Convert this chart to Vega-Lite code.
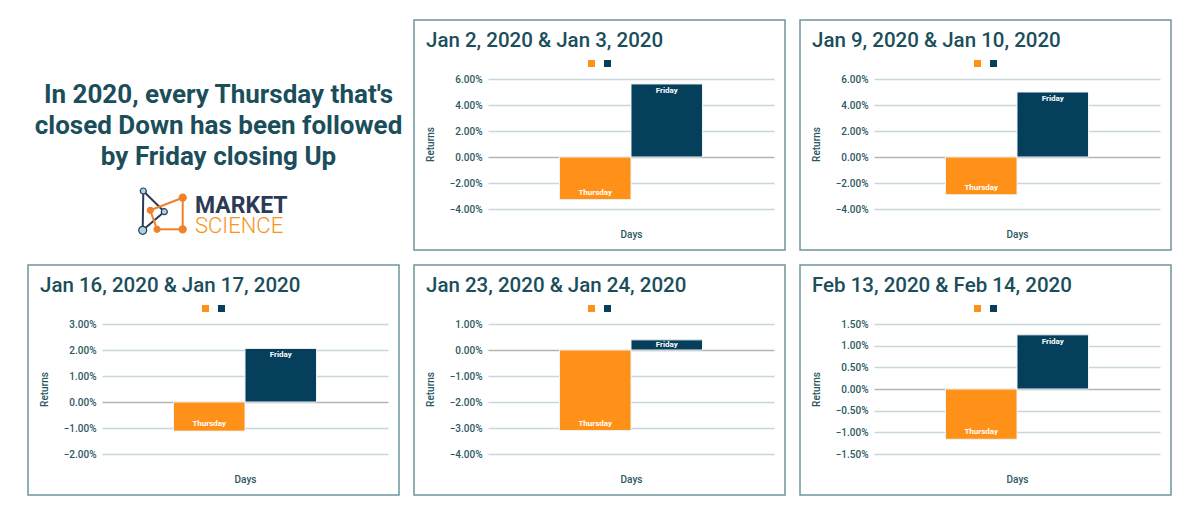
{
  "$schema": "https://vega.github.io/schema/vega-lite/v6.json",
  "background": "white",
  "padding": {"left": 27, "top": 19, "right": 29, "bottom": 18},
  "datasets": {
    "returns": [
      {"pair": "Jan 2, 2020 & Jan 3, 2020", "Day": "Thursday", "Return": -0.0328},
      {"pair": "Jan 2, 2020 & Jan 3, 2020", "Day": "Friday", "Return": 0.0562},
      {"pair": "Jan 9, 2020 & Jan 10, 2020", "Day": "Thursday", "Return": -0.029},
      {"pair": "Jan 9, 2020 & Jan 10, 2020", "Day": "Friday", "Return": 0.05},
      {"pair": "Jan 16, 2020 & Jan 17, 2020", "Day": "Thursday", "Return": -0.0112},
      {"pair": "Jan 16, 2020 & Jan 17, 2020", "Day": "Friday", "Return": 0.0206},
      {"pair": "Jan 23, 2020 & Jan 24, 2020", "Day": "Thursday", "Return": -0.031},
      {"pair": "Jan 23, 2020 & Jan 24, 2020", "Day": "Friday", "Return": 0.0039},
      {"pair": "Feb 13, 2020 & Feb 14, 2020", "Day": "Thursday", "Return": -0.0116},
      {"pair": "Feb 13, 2020 & Feb 14, 2020", "Day": "Friday", "Return": 0.0125}
    ],
    "logoEdges": [
      {"x": 5.3, "y": 6, "x2": 4.7, "y2": 45.3, "tone": "navy"},
      {"x": 5.3, "y": 6, "x2": 26.3, "y2": 26.7, "tone": "navy"},
      {"x": 26.3, "y": 26.7, "x2": 4.7, "y2": 45.3, "tone": "navy"},
      {"x": 12.3, "y": 25.3, "x2": 44.7, "y2": 12.7, "tone": "orange"},
      {"x": 44.7, "y": 12.7, "x2": 44.7, "y2": 44.3, "tone": "orange"},
      {"x": 44.7, "y": 44.3, "x2": 19, "y2": 44.3, "tone": "orange"},
      {"x": 19, "y": 44.3, "x2": 12.3, "y2": 25.3, "tone": "orange"}
    ],
    "logoNodes": [
      {"x": 5.3, "y": 6, "tone": "blue", "node": "small"},
      {"x": 12.3, "y": 25.3, "tone": "orange", "node": "small"},
      {"x": 26.3, "y": 26.7, "tone": "blue", "node": "small"},
      {"x": 44.7, "y": 12.7, "tone": "orange", "node": "medium"},
      {"x": 44.7, "y": 44.3, "tone": "orange", "node": "medium"},
      {"x": 4.7, "y": 45.3, "tone": "blue", "node": "large"},
      {"x": 19, "y": 44.3, "tone": "orange", "node": "small"}
    ],
    "logoWords": [
      {"word": "MARKET", "x": 57, "y": 28},
      {"word": "SCIENCE", "x": 57, "y": 47.7}
    ]
  },
  "columns": 3,
  "bounds": "flush",
  "spacing": {"row": 15, "column": 15},
  "resolve": {"scale": {"color": "independent"}, "legend": {"color": "independent"}},
  "concat": [
    {
      "width": 371, "height": 230,
      "view": {"stroke": null, "fill": null},
      "title": {
        "text": ["In 2020, every Thursday that's", "closed Down has been followed", "by Friday closing Up"],
        "anchor": "middle", "fontSize": 26, "fontWeight": "bold", "lineHeight": 31,
        "color": "#1b4e5b", "baseline": "top", "offset": -150, "dx": 5
      },
      "layer": [
        {
          "data": {"name": "logoEdges"},
          "mark": {"type": "rule", "strokeWidth": 2},
          "encoding": {
            "x": {"field": "x", "type": "quantitative", "scale": {"domain": [0, 180], "range": [110, 290]}, "axis": null},
            "y": {"field": "y", "type": "quantitative", "scale": {"domain": [0, 60], "range": [165, 225]}, "axis": null},
            "x2": {"field": "x2"},
            "y2": {"field": "y2"},
            "color": {"field": "tone", "type": "nominal", "scale": {"domain": ["navy", "orange", "blue"], "range": ["#2b3a55", "#f0802a", "#a9d4e4"]}, "legend": null}
          }
        },
        {
          "data": {"name": "logoNodes"},
          "mark": {"type": "point", "shape": "circle", "filled": true, "opacity": 1, "strokeWidth": 1.2},
          "encoding": {
            "x": {"field": "x", "type": "quantitative"},
            "y": {"field": "y", "type": "quantitative"},
            "fill": {"field": "tone", "type": "nominal", "scale": {"domain": ["blue", "orange"], "range": ["#a9d4e4", "#f0802a"]}, "legend": null},
            "stroke": {"field": "tone", "type": "nominal", "scale": {"domain": ["blue", "orange"], "range": ["#2b3a55", "#f0802a"]}, "legend": null},
            "size": {"field": "node", "type": "nominal", "scale": {"domain": ["small", "medium", "large"], "range": [36, 64, 100]}, "legend": null}
          }
        },
        {
          "data": {"name": "logoWords"},
          "transform": [{"filter": "datum.word === 'MARKET'"}],
          "mark": {"type": "text", "align": "left", "baseline": "alphabetic", "fontSize": 23, "fontWeight": "bold", "color": "#2b3a55"},
          "encoding": {
            "x": {"field": "x", "type": "quantitative"},
            "y": {"field": "y", "type": "quantitative"},
            "text": {"field": "word"}
          }
        },
        {
          "data": {"name": "logoWords"},
          "transform": [{"filter": "datum.word === 'SCIENCE'"}],
          "mark": {"type": "text", "align": "left", "baseline": "alphabetic", "fontSize": 22, "fontWeight": 300, "color": "#f7941d"},
          "encoding": {
            "x": {"field": "x", "type": "quantitative"},
            "y": {"field": "y", "type": "quantitative"},
            "text": {"field": "word"}
          }
        }
      ]
    },
    {
      "width": 371, "height": 230,
      "title": "Jan 2, 2020 & Jan 3, 2020",
      "data": {"name": "returns"},
      "transform": [{"filter": "datum.pair === 'Jan 2, 2020 & Jan 3, 2020'"}],
      "encoding": {
        "x": {"field": "Day", "type": "nominal", "sort": ["Thursday", "Friday"], "scale": {"domain": ["Thursday", "Friday"], "range": [74, 360], "paddingInner": 0, "paddingOuter": 1.1}, "axis": {"title": "Days"}},
        "y": {"field": "Return", "type": "quantitative", "scale": {"domain": [-0.04, 0.06], "range": [189, 59], "nice": false}, "axis": {"title": "Returns", "values": [-0.04, -0.02, 0, 0.02, 0.04, 0.06], "format": ".2%"}}
      },
      "layer": [
        {"mark": {"type": "bar", "stroke": "#eef3f5", "strokeWidth": 1}, "encoding": {"color": {"field": "Day", "type": "nominal", "scale": {"domain": ["Thursday", "Friday"], "range": ["#ff9118", "#053f5c"]}, "legend": {"labelExpr": "''"}}}},
        {"transform": [{"filter": "datum.Return > 0"}], "mark": {"type": "text", "baseline": "top", "dy": 3, "fontSize": 8, "fontWeight": "bold", "color": "white"}, "encoding": {"text": {"field": "Day"}}},
        {"transform": [{"filter": "datum.Return < 0"}], "mark": {"type": "text", "baseline": "bottom", "dy": -3, "fontSize": 8, "fontWeight": "bold", "color": "white"}, "encoding": {"text": {"field": "Day"}}}
      ]
    },
    {
      "width": 371, "height": 230,
      "title": "Jan 9, 2020 & Jan 10, 2020",
      "data": {"name": "returns"},
      "transform": [{"filter": "datum.pair === 'Jan 9, 2020 & Jan 10, 2020'"}],
      "encoding": {
        "x": {"field": "Day", "type": "nominal", "sort": ["Thursday", "Friday"], "scale": {"domain": ["Thursday", "Friday"], "range": [74, 360], "paddingInner": 0, "paddingOuter": 1.1}, "axis": {"title": "Days"}},
        "y": {"field": "Return", "type": "quantitative", "scale": {"domain": [-0.04, 0.06], "range": [189, 59], "nice": false}, "axis": {"title": "Returns", "values": [-0.04, -0.02, 0, 0.02, 0.04, 0.06], "format": ".2%"}}
      },
      "layer": [
        {"mark": {"type": "bar", "stroke": "#eef3f5", "strokeWidth": 1}, "encoding": {"color": {"field": "Day", "type": "nominal", "scale": {"domain": ["Thursday", "Friday"], "range": ["#ff9118", "#053f5c"]}, "legend": {"labelExpr": "''"}}}},
        {"transform": [{"filter": "datum.Return > 0"}], "mark": {"type": "text", "baseline": "top", "dy": 3, "fontSize": 8, "fontWeight": "bold", "color": "white"}, "encoding": {"text": {"field": "Day"}}},
        {"transform": [{"filter": "datum.Return < 0"}], "mark": {"type": "text", "baseline": "bottom", "dy": -3, "fontSize": 8, "fontWeight": "bold", "color": "white"}, "encoding": {"text": {"field": "Day"}}}
      ]
    },
    {
      "width": 371, "height": 230,
      "title": "Jan 16, 2020 & Jan 17, 2020",
      "data": {"name": "returns"},
      "transform": [{"filter": "datum.pair === 'Jan 16, 2020 & Jan 17, 2020'"}],
      "encoding": {
        "x": {"field": "Day", "type": "nominal", "sort": ["Thursday", "Friday"], "scale": {"domain": ["Thursday", "Friday"], "range": [74, 360], "paddingInner": 0, "paddingOuter": 1.1}, "axis": {"title": "Days"}},
        "y": {"field": "Return", "type": "quantitative", "scale": {"domain": [-0.02, 0.03], "range": [189, 59], "nice": false}, "axis": {"title": "Returns", "values": [-0.02, -0.01, 0, 0.01, 0.02, 0.03], "format": ".2%"}}
      },
      "layer": [
        {"mark": {"type": "bar", "stroke": "#eef3f5", "strokeWidth": 1}, "encoding": {"color": {"field": "Day", "type": "nominal", "scale": {"domain": ["Thursday", "Friday"], "range": ["#ff9118", "#053f5c"]}, "legend": {"labelExpr": "''"}}}},
        {"transform": [{"filter": "datum.Return > 0"}], "mark": {"type": "text", "baseline": "top", "dy": 3, "fontSize": 8, "fontWeight": "bold", "color": "white"}, "encoding": {"text": {"field": "Day"}}},
        {"transform": [{"filter": "datum.Return < 0"}], "mark": {"type": "text", "baseline": "bottom", "dy": -3, "fontSize": 8, "fontWeight": "bold", "color": "white"}, "encoding": {"text": {"field": "Day"}}}
      ]
    },
    {
      "width": 371, "height": 230,
      "title": "Jan 23, 2020 & Jan 24, 2020",
      "data": {"name": "returns"},
      "transform": [{"filter": "datum.pair === 'Jan 23, 2020 & Jan 24, 2020'"}],
      "encoding": {
        "x": {"field": "Day", "type": "nominal", "sort": ["Thursday", "Friday"], "scale": {"domain": ["Thursday", "Friday"], "range": [74, 360], "paddingInner": 0, "paddingOuter": 1.1}, "axis": {"title": "Days"}},
        "y": {"field": "Return", "type": "quantitative", "scale": {"domain": [-0.04, 0.01], "range": [189, 59], "nice": false}, "axis": {"title": "Returns", "values": [-0.04, -0.03, -0.02, -0.01, 0, 0.01], "format": ".2%"}}
      },
      "layer": [
        {"mark": {"type": "bar", "stroke": "#eef3f5", "strokeWidth": 1}, "encoding": {"color": {"field": "Day", "type": "nominal", "scale": {"domain": ["Thursday", "Friday"], "range": ["#ff9118", "#053f5c"]}, "legend": {"labelExpr": "''"}}}},
        {"transform": [{"filter": "datum.Return > 0"}], "mark": {"type": "text", "baseline": "top", "dy": 1, "fontSize": 8, "fontWeight": "bold", "color": "white"}, "encoding": {"text": {"field": "Day"}}},
        {"transform": [{"filter": "datum.Return < 0"}], "mark": {"type": "text", "baseline": "bottom", "dy": -3, "fontSize": 8, "fontWeight": "bold", "color": "white"}, "encoding": {"text": {"field": "Day"}}}
      ]
    },
    {
      "width": 371, "height": 230,
      "title": "Feb 13, 2020 & Feb 14, 2020",
      "data": {"name": "returns"},
      "transform": [{"filter": "datum.pair === 'Feb 13, 2020 & Feb 14, 2020'"}],
      "encoding": {
        "x": {"field": "Day", "type": "nominal", "sort": ["Thursday", "Friday"], "scale": {"domain": ["Thursday", "Friday"], "range": [74, 360], "paddingInner": 0, "paddingOuter": 1.1}, "axis": {"title": "Days"}},
        "y": {"field": "Return", "type": "quantitative", "scale": {"domain": [-0.015, 0.015], "range": [189, 59], "nice": false}, "axis": {"title": "Returns", "values": [-0.015, -0.01, -0.005, 0, 0.005, 0.01, 0.015], "format": ".2%"}}
      },
      "layer": [
        {"mark": {"type": "bar", "stroke": "#eef3f5", "strokeWidth": 1}, "encoding": {"color": {"field": "Day", "type": "nominal", "scale": {"domain": ["Thursday", "Friday"], "range": ["#ff9118", "#053f5c"]}, "legend": {"labelExpr": "''"}}}},
        {"transform": [{"filter": "datum.Return > 0"}], "mark": {"type": "text", "baseline": "top", "dy": 3, "fontSize": 8, "fontWeight": "bold", "color": "white"}, "encoding": {"text": {"field": "Day"}}},
        {"transform": [{"filter": "datum.Return < 0"}], "mark": {"type": "text", "baseline": "bottom", "dy": -3, "fontSize": 8, "fontWeight": "bold", "color": "white"}, "encoding": {"text": {"field": "Day"}}}
      ]
    }
  ],
  "config": {
    "font": "Roboto",
    "view": {"stroke": "#6f979b", "strokeWidth": 1.5, "fill": "white"},
    "title": {"anchor": "start", "frame": "group", "fontSize": 20.5, "fontWeight": 500, "color": "#1b4e5b", "offset": -31, "dx": 12, "baseline": "alphabetic"},
    "axisY": {
      "domain": false, "ticks": false, "tickSize": 0, "grid": true,
      "gridColor": {"condition": {"test": "datum.value === 0", "value": "#b4b4b4"}, "value": "#c9d6da"},
      "gridWidth": 1.3,
      "labelPadding": -68, "labelAlign": "right", "labelFontSize": 10, "labelFontWeight": 500, "labelColor": "#2a5863",
      "titleFontSize": 10, "titleFontWeight": 500, "titleColor": "#2a5863", "titleX": 16, "titleBaseline": "middle"
    },
    "axisX": {
      "offset": -26, "domain": false, "ticks": false, "labels": false, "grid": false,
      "titleFontSize": 10, "titleFontWeight": 500, "titleColor": "#2a5863", "titlePadding": 5
    },
    "legend": {
      "orient": "none", "legendX": 174, "legendY": 40, "direction": "horizontal", "title": null,
      "symbolType": "square", "symbolSize": 49, "symbolStrokeWidth": 0, "labelOffset": 0,
      "columnPadding": 9, "padding": 0, "labelFontSize": 1
    }
  }
}
